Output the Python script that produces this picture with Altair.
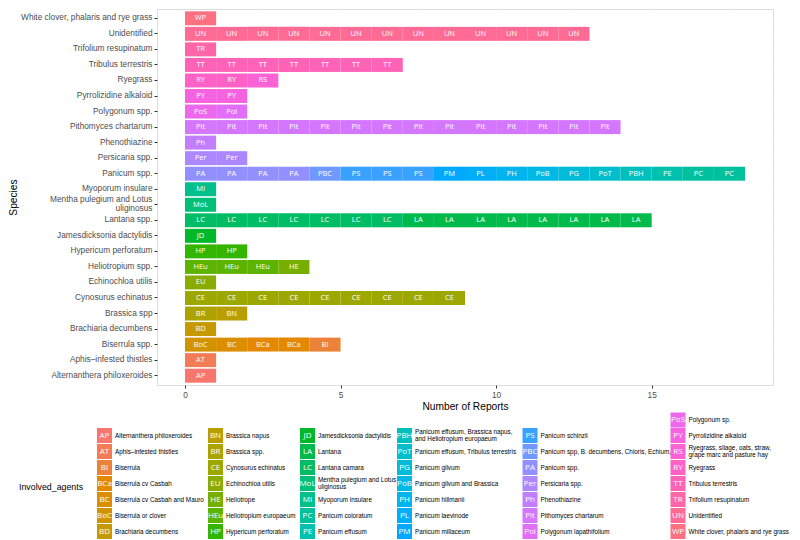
import math
import altair as alt
import pandas as pd

# ---------------- data ----------------
species_top_to_bottom = [
    "White clover, phalaris and rye grass", "Unidentified", "Trifolium resupinatum",
    "Tribulus terrestris", "Ryegrass", "Pyrrolizidine alkaloid", "Polygonum spp.",
    "Pithomyces chartarum", "Phenothiazine", "Persicaria spp.", "Panicum spp.",
    "Myoporum insulare", "Mentha pulegium and Lotus uliginosus", "Lantana spp.",
    "Jamesdicksonia dactylidis", "Hypericum perforatum", "Heliotropium spp.",
    "Echinochloa utilis", "Cynosurus echinatus", "Brassica spp", "Brachiaria decumbens",
    "Biserrula spp.", "Aphis\u2013infested thistles", "Alternanthera philoxeroides",
]

# stacked segments, left to right within each bar
seg_species = [
    "White clover, phalaris and rye grass", "Unidentified", "Trifolium resupinatum",
    "Tribulus terrestris", "Ryegrass", "Ryegrass", "Pyrrolizidine alkaloid",
    "Polygonum spp.", "Polygonum spp.", "Pithomyces chartarum", "Phenothiazine",
    "Persicaria spp.",
    "Panicum spp.", "Panicum spp.", "Panicum spp.", "Panicum spp.", "Panicum spp.",
    "Panicum spp.", "Panicum spp.", "Panicum spp.", "Panicum spp.", "Panicum spp.",
    "Panicum spp.", "Panicum spp.",
    "Myoporum insulare", "Mentha pulegium and Lotus uliginosus",
    "Lantana spp.", "Lantana spp.", "Jamesdicksonia dactylidis", "Hypericum perforatum",
    "Heliotropium spp.", "Heliotropium spp.", "Echinochloa utilis", "Cynosurus echinatus",
    "Brassica spp", "Brassica spp", "Brachiaria decumbens",
    "Biserrula spp.", "Biserrula spp.", "Biserrula spp.", "Biserrula spp.",
    "Aphis\u2013infested thistles", "Alternanthera philoxeroides",
]
seg_agent = [
    "WP", "UN", "TR", "TT", "RY", "RS", "PY", "PoS", "Pol", "Pit", "Ph", "Per",
    "PA", "PBC", "PS", "PM", "PL", "PH", "PoB", "PG", "PoT", "PBH", "PE", "PC",
    "MI", "MoL", "LC", "LA", "JD", "HP", "HEu", "HE", "EU", "CE", "BR", "BN", "BD",
    "BoC", "BC", "BCa", "BI", "AT", "AP",
]
seg_count = [
    1, 13, 1, 7, 2, 1, 2, 1, 1, 14, 1, 2,
    4, 1, 3, 1, 1, 1, 1, 1, 1, 1, 1, 2,
    1, 1, 7, 8, 1, 2, 3, 1, 1, 9, 1, 1, 1,
    1, 1, 2, 1, 1, 1,
]

# legend (factor level order)
agent_codes = [
    "AP", "AT", "BI", "BCa", "BC", "BoC", "BD", "BN", "BR", "CE", "EU", "HE", "HEu",
    "HP", "JD", "LA", "LC", "MoL", "MI", "PC", "PE", "PBH", "PoT", "PG", "PoB", "PH",
    "PL", "PM", "PS", "PBC", "PA", "Per", "Ph", "Pit", "Pol", "PoS", "PY", "RS", "RY",
    "TT", "TR", "UN", "WP",
]
agent_names = [
    "Alternanthera philoxeroides", "Aphis\u2013infested thistles", "Biserrula",
    "Biserrula cv Casbah", "Biserrula cv Casbah and Mauro", "Biserrula or clover",
    "Brachiaria decumbens", "Brassica napus", "Brassica spp.", "Cynosurus echinatus",
    "Echinochloa utilis", "Heliotrope", "Heliotropium europaeum", "Hypericum perforatum",
    "Jamesdicksonia dactylidis", "Lantana", "Lantana camara",
    "Mentha pulegium and Lotus\nuliginosus", "Myoporum insulare", "Panicum coloratum",
    "Panicum effusum", "Panicum effusum, Brassica napus,\nand Heliotropium europaeum",
    "Panicum effusum, Tribulus terrestris", "Panicum gilvum", "Panicum gilvum and Brassica",
    "Panicum hillmanii", "Panicum laevinode", "Panicum millaceum", "Panicum schinzii",
    "Panicum spp, B. decumbens, Chloris, Echium,", "Panicum spp.", "Persicaria spp.",
    "Phenothiazine", "Pithomyces chartarum", "Polygonum lapathifolium", "Polygonum sp.",
    "Pyrrolizidine alkaloid", "Ryegrass, silage, oats, straw,\ngrape marc and pasture hay",
    "Ryegrass", "Tribulus terrestris", "Trifolium resupinatum", "Unidentified",
    "White clover, phalaris and rye grass",
]

x_ticks = [0, 5, 10, 15]
x_minor = [2.5, 7.5, 12.5, 17.5]


# ---------------- ggplot hue palette ----------------
def hcl_hex(h, c=100.0, l=65.0):
    Xn, Yn, Zn = 95.047, 100.0, 108.883
    hr = math.radians(h)
    U, V = c * math.cos(hr), c * math.sin(hr)
    Y = Yn * ((l + 16) / 116) ** 3
    t = Xn + Yn + Zn
    xx, yy = Xn / t, Yn / t
    uN = 2 * xx / (6 * yy - xx + 1.5)
    vN = 4.5 * yy / (6 * yy - xx + 1.5)
    u = U / (13 * l) + uN
    v = V / (13 * l) + vN
    X = 9.0 * Y * u / (4 * v)
    Z = -X / 3 - 5 * Y + 3 * Y / v

    def g(a):
        a = max(0.0, min(1.0, a))
        return 1.055 * a ** (1 / 2.4) - 0.055 if a > 0.00304 else 12.92 * a

    r = g((3.240479 * X - 1.537150 * Y - 0.498535 * Z) / Yn)
    gg = g((-0.969256 * X + 1.875992 * Y + 0.041556 * Z) / Yn)
    b = g((0.055648 * X - 0.204043 * Y + 1.057311 * Z) / Yn)
    return "#%02X%02X%02X" % (round(255 * r), round(255 * gg), round(255 * b))


n_lv = len(agent_codes)
palette = [hcl_hex(15 + 360 * i / n_lv) for i in range(n_lv)]

# ---------------- tables ----------------
rows = []
cum = {}
for sp, ag, cnt in zip(seg_species, seg_agent, seg_count):
    for _ in range(cnt):
        s = cum.get(sp, 0)
        rows.append({"species": sp, "agent": ag, "x0": s, "x1": s + 1, "xm": s + 0.5})
        cum[sp] = s + 1
units = pd.DataFrame(rows)

leg_rows = []
for i, (code, name) in enumerate(zip(agent_codes, agent_names)):
    if i < 35:
        col, row = i // 7, i % 7 + 1
    else:
        col, row = 5, i - 35
    leg_rows.append({"agent": code, "name": name, "col": col, "row": row,
                     "multi": "\n" in name})
leg = pd.DataFrame(leg_rows)

# ---------------- styles / layout ----------------
FONT = "Liberation Sans"
LBL_FONT = "Open Sans"
W, H = 616, 376
ORIGIN_X = 158          # page x of the plot's left edge
ORIGIN_Y = 8            # page y of the plot's top edge
key_centers_page_x = [105.5, 216.5, 308.5, 405.5, 531, 679]
row_centers_page_y = [419, 434.5, 530.5]   # rows 0, 1 and 7

xscale = alt.Scale(domain=[-0.9, 18.9], nice=False, zero=False)
yscale = alt.Scale(domain=species_top_to_bottom, paddingInner=0.1, paddingOuter=0.15)
cscale = alt.Scale(domain=agent_codes, range=palette)

MENTHA = "Mentha pulegium and Lotus uliginosus"
xaxis = alt.Axis(values=x_ticks, grid=True, gridColor="white", gridWidth=1.1,
                 domain=False, tickColor="#333333", tickSize=3, labelFlush=False,
                 labelColor="#4D4D4D", labelFont=FONT, labelFontSize=8.3, labelPadding=2,
                 titleFont=FONT, titleFontSize=10.2, titleFontWeight="normal",
                 titleColor="black", titlePadding=3)
yaxis = alt.Axis(bandPosition=0.5, grid=True, gridColor="white", gridWidth=1.1,
                 domain=False, tickColor="#333333", tickSize=3, labelPadding=2,
                 labelColor="#4D4D4D", labelFont=FONT, labelFontSize=8.3, labelLimit=300,
                 labelLineHeight=9,
                 labelOffset={"condition": {"test": f"datum.value === '{MENTHA}'", "value": -4.5},
                              "value": 0},
                 labelExpr=f"datum.value === '{MENTHA}' ? ['Mentha pulegium and Lotus', 'uliginosus'] : datum.value",
                 titleFont=FONT, titleFontSize=10.2, titleFontWeight="normal",
                 titleColor="black", titlePadding=2)

minor = alt.Chart(pd.DataFrame({"v": x_minor})).mark_rule(color="white", strokeWidth=0.55).encode(
    x=alt.X("v:Q", scale=xscale, axis=xaxis, title="Number of Reports")
)
bars = alt.Chart(units).mark_bar(strokeWidth=0).encode(
    x=alt.X("x0:Q", scale=xscale, axis=xaxis, title="Number of Reports"),
    x2="x1:Q",
    y=alt.Y("species:N", scale=yscale, axis=yaxis, title="Species", sort=species_top_to_bottom),
    color=alt.Color("agent:N", scale=cscale, legend=None),
)
bar_text = alt.Chart(units).mark_text(font=LBL_FONT, fontSize=7.5, color="white",
                                      align="center", baseline="middle").encode(
    x=alt.X("xm:Q", scale=xscale),
    y=alt.Y("species:N", scale=yscale, sort=species_top_to_bottom),
    text="agent:N",
)
main = alt.layer(minor, bars, bar_text)

# legend drawn with its own scales (pixel offsets relative to the plot origin)
lx = alt.Scale(domain=[0, 1, 2, 3, 4, 5], range=[p - ORIGIN_X for p in key_centers_page_x])
ly = alt.Scale(domain=[0, 1, 7], range=[p - ORIGIN_Y for p in row_centers_page_y])
lbase = alt.Chart(leg)
lx_enc = alt.X("col:Q", scale=lx, axis=None)
ly_enc = alt.Y("row:Q", scale=ly, axis=None)
keys = lbase.mark_square(size=225, opacity=1).encode(
    x=lx_enc, y=ly_enc, color=alt.Color("agent:N", scale=cscale, legend=None),
)
key_text = lbase.mark_text(font=LBL_FONT, fontSize=8, color="white",
                           align="center", baseline="middle").encode(
    x=lx_enc, y=ly_enc, text="agent:N",
)
label_one = lbase.transform_filter("!datum.multi").mark_text(
    font=FONT, fontSize=6.35, color="black", align="left", baseline="middle", dx=10.5
).encode(x=lx_enc, y=ly_enc, text="name:N")
label_two = lbase.transform_filter("datum.multi").mark_text(
    font=FONT, fontSize=6.35, color="black", align="left", baseline="middle", dx=10.5,
    dy=-3.6, lineBreak="\n", lineHeight=7.2
).encode(x=lx_enc, y=ly_enc, text="name:N")
leg_title = alt.Chart(pd.DataFrame({"t": ["Involved_agents"]})).mark_text(
    font=FONT, fontSize=8.8, color="black", align="left", baseline="middle"
).encode(x=alt.value(20 - ORIGIN_X), y=alt.value(486 - ORIGIN_Y), text="t:N")

legend = alt.layer(keys, key_text, label_one, label_two, leg_title)

chart = alt.layer(main, legend).resolve_scale(
    x="independent", y="independent"
).properties(
    width=W, height=H, padding=0
).configure_view(
    fill="#EBEBEB", stroke=None
).configure(background="white")

chart.save("out.html", embed_options={"renderer": "svg", "actions": False})
